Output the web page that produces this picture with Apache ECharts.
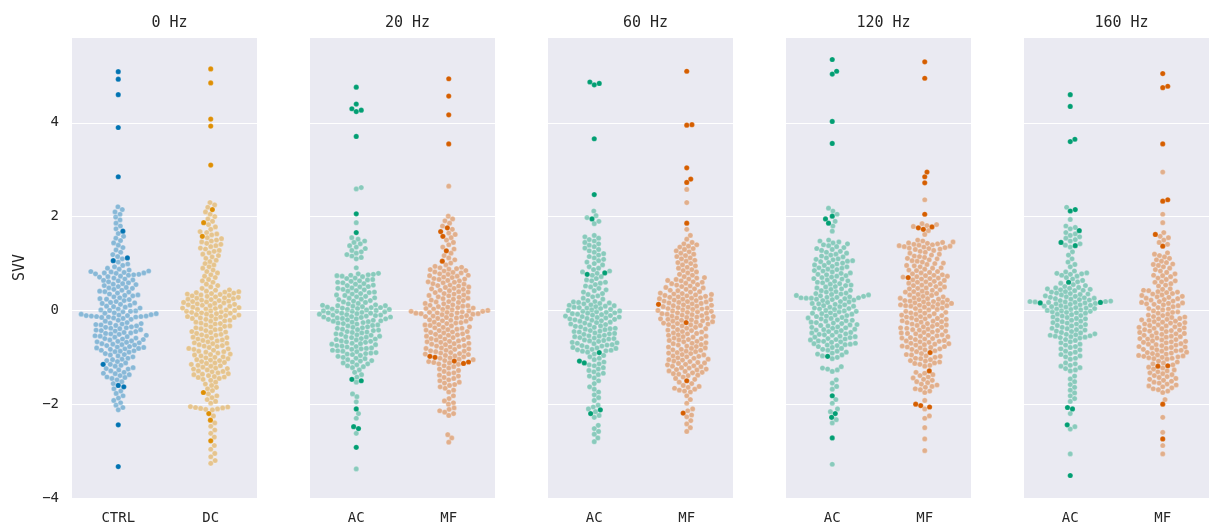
<!DOCTYPE html>
<html>
<head>
<meta charset="utf-8">
<script src="https://cdn.jsdelivr.net/npm/echarts@6/dist/echarts.min.js"></script>
<style>
html,body{margin:0;padding:0;background:#fff;}
#chart{width:1211px;height:529px;}
</style>
</head>
<body>
<div id="chart"></div>
<script>
// ---------------- DATA ----------------
const panelTitles = ['0 Hz', '20 Hz', '60 Hz', '120 Hz', '160 Hz'];
const panelCategories = [['CTRL', 'DC'], ['AC', 'MF'], ['AC', 'MF'], ['AC', 'MF'], ['AC', 'MF']];
const yTicks = [-4, -2, 0, 2, 4];

// 0 Hz
const ctrlDark = [5.09, 4.93, 4.6, 3.9, 2.85, 1.69, 1.12, 1.06, -1.15, -1.6, -1.63, -2.44, -3.33];
const ctrlLight = [2.21, 2.15, 2.1, 2.05, 1.99, 1.93, 1.86, 1.8, 1.74, 1.64, 1.58, 1.54, 1.49, 1.44, 1.39, 1.34, 1.29, 1.24, 1.19,
  1.15, 1.1, 1.03, 0.99, 0.96, 0.93, 0.9, 0.88, 0.86,
  0.84, 0.83, 0.82, 0.81, 0.8, 0.8, 0.79, 0.78, 0.77, 0.76, 0.75,
  0.73, 0.72, 0.71, 0.69, 0.67, 0.65, 0.64, 0.63, 0.61, 0.59, 0.57, 0.56, 0.55, 0.53, 0.51, 0.49, 0.48, 0.47, 0.45, 0.43, 0.41, 0.4, 0.39, 0.37, 0.35, 0.33, 0.32, 0.31, 0.29, 0.27, 0.25, 0.24, 0.23, 0.21, 0.19, 0.17, 0.16, 0.15, 0.13, 0.11, 0.09, 0.08, 0.07, 0.05, 0.03, 0.01, 0.0,
  -0.01, -0.02, -0.03, -0.05, -0.06, -0.07, -0.08, -0.09, -0.1, -0.11, -0.11, -0.12, -0.12, -0.13, -0.13, -0.14, -0.14, -0.15, -0.16, -0.17, -0.19, -0.21, -0.23,
  -0.26, -0.27, -0.28, -0.29, -0.3, -0.31, -0.32, -0.33, -0.35, -0.36, -0.37, -0.38, -0.39, -0.41, -0.42, -0.43, -0.44, -0.45, -0.47, -0.48, -0.49, -0.5, -0.51, -0.53, -0.54, -0.55, -0.56, -0.57, -0.59, -0.6, -0.61, -0.62, -0.63, -0.65, -0.66, -0.67, -0.68, -0.69, -0.71, -0.72, -0.73, -0.74, -0.75, -0.77, -0.78, -0.79, -0.8, -0.81, -0.82, -0.83, -0.85, -0.86, -0.87, -0.88, -0.89,
  -0.92, -0.94, -0.95, -0.97, -0.99, -1.02, -1.04, -1.05, -1.07, -1.09, -1.12, -1.15, -1.17, -1.19, -1.22, -1.24, -1.25, -1.27, -1.29, -1.32, -1.34, -1.35, -1.37, -1.39, -1.42, -1.43, -1.45, -1.48,
  -1.52, -1.56, -1.67, -1.72, -1.77, -1.82, -1.87, -1.92, -1.97, -2.02, -2.07, -2.12];
const dcDark = [5.15, 4.85, 4.08, 3.93, 3.1, 2.15, 1.87, 1.58, -1.75, -2.2, -2.34, -2.78];
const dcLight = [2.3, 2.25, 2.2, 2.1, 2.05, 2.0, 1.95, 1.9, 1.83, 1.78, 1.73,
  1.68, 1.66, 1.63, 1.61, 1.55, 1.53, 1.5, 1.48, 1.46, 1.43, 1.41, 1.38, 1.36, 1.33, 1.31, 1.28, 1.26, 1.23, 1.2, 1.17, 1.14, 1.11,
  1.07, 1.04, 1.0, 0.97, 0.93, 0.9, 0.86, 0.83, 0.8, 0.76, 0.73, 0.7, 0.66, 0.63, 0.6, 0.56, 0.53, 0.5, 0.47,
  0.44, 0.43, 0.41, 0.4, 0.39, 0.38, 0.37, 0.36, 0.35, 0.34, 0.33, 0.32, 0.31, 0.3, 0.29, 0.28, 0.27, 0.26, 0.25, 0.24, 0.23, 0.22, 0.21, 0.2, 0.19, 0.18, 0.17, 0.16, 0.15, 0.14, 0.13, 0.12, 0.11, 0.1, 0.09, 0.08, 0.07, 0.06, 0.05, 0.04, 0.03, 0.02, 0.01, 0.0, -0.01, -0.02, -0.03, -0.04, -0.05, -0.06, -0.07, -0.08, -0.09, -0.1, -0.11, -0.12, -0.13, -0.14, -0.15, -0.16, -0.17, -0.18, -0.19,
  -0.21, -0.22, -0.23, -0.25, -0.27, -0.28, -0.29, -0.31, -0.33, -0.34, -0.35, -0.37, -0.39, -0.4, -0.41, -0.43, -0.45, -0.46, -0.47, -0.49, -0.51, -0.52, -0.53, -0.55, -0.57, -0.58, -0.59, -0.61, -0.63, -0.64, -0.65, -0.67, -0.69, -0.7, -0.71, -0.73, -0.75, -0.76, -0.77, -0.79, -0.81, -0.82, -0.83, -0.85, -0.87, -0.88, -0.89, -0.91, -0.93, -0.94, -0.95, -0.97, -0.99, -1.0, -1.01, -1.03, -1.05, -1.06, -1.07, -1.09, -1.11, -1.12, -1.13, -1.15, -1.17, -1.18, -1.19, -1.21, -1.23, -1.24, -1.25, -1.27, -1.29, -1.3, -1.31, -1.33, -1.35, -1.36, -1.37, -1.39, -1.41, -1.42, -1.43, -1.45, -1.47, -1.49,
  -1.53, -1.57, -1.6, -1.64, -1.67, -1.71, -1.78, -1.82, -1.86, -1.9, -1.94, -1.98,
  -2.05, -2.06, -2.07, -2.08, -2.09, -2.1, -2.11, -2.12,
  -2.25, -2.4, -2.47, -2.55, -2.62, -2.7, -2.88, -2.96, -3.05, -3.12, -3.2, -3.26];

// 20 Hz
const ac20Dark = [4.76, 4.4, 4.3, 4.27, 4.24, 3.71, 2.06, 1.66, -1.47, -1.5, -2.1, -2.48, -2.52, -2.92];
const ac20Light = [2.62, 2.59, 1.87,
  1.55, 1.52, 1.48, 1.45, 1.42, 1.38, 1.35, 1.32, 1.28, 1.25, 1.22, 1.19, 1.16, 1.13, 1.1,
  0.91,
  0.79, 0.78, 0.77, 0.76, 0.75, 0.74, 0.73, 0.72,
  0.69, 0.68, 0.66, 0.65, 0.63, 0.62, 0.6, 0.59, 0.57, 0.56, 0.54, 0.53, 0.51, 0.5, 0.48, 0.47, 0.45, 0.44, 0.42, 0.41, 0.39, 0.38, 0.36, 0.35, 0.33, 0.32, 0.3, 0.29, 0.27, 0.26, 0.24, 0.23, 0.21, 0.2, 0.18, 0.17, 0.15, 0.14,
  0.12, 0.11, 0.1, 0.1, 0.09, 0.08, 0.07, 0.06, 0.06, 0.05, 0.04, 0.03, 0.02, 0.02, 0.01, 0.0, -0.01, -0.02, -0.02, -0.03, -0.04, -0.05, -0.06, -0.06, -0.07, -0.08, -0.09, -0.1, -0.1, -0.11, -0.12, -0.13, -0.14, -0.14, -0.15, -0.16, -0.17, -0.18, -0.18, -0.19, -0.2, -0.21, -0.22, -0.23, -0.24, -0.25, -0.26, -0.27, -0.28, -0.29,
  -0.31, -0.32, -0.33, -0.35, -0.36, -0.37, -0.38, -0.4, -0.41, -0.42, -0.43, -0.45, -0.46, -0.47, -0.48, -0.5, -0.51, -0.52, -0.53, -0.55, -0.56, -0.57, -0.58, -0.6, -0.61, -0.62, -0.63, -0.65, -0.66, -0.67, -0.68, -0.7, -0.71, -0.72, -0.73, -0.75, -0.76, -0.77, -0.78, -0.8, -0.81, -0.82, -0.83, -0.85, -0.86, -0.87, -0.88, -0.9, -0.91, -0.92, -0.93, -0.94,
  -0.96, -0.98, -1.0, -1.02, -1.03, -1.05, -1.07, -1.08, -1.1, -1.12, -1.14, -1.16, -1.18, -1.2,
  -1.22, -1.27, -1.32, -1.37, -1.42, -1.53,
  -1.78, -1.84, -1.95, -2.2, -2.3, -2.62, -3.38];
const mf20Dark = [4.94, 4.57, 4.17, 3.55, 1.76, 1.68, 1.58, 1.27, 1.05, -0.98, -1.0, -1.08, -1.1, -1.13];
const mf20Light = [2.65, 2.01,
  1.95, 1.91, 1.86, 1.8, 1.73, 1.65, 1.62, 1.55, 1.5, 1.45, 1.4, 1.35, 1.31, 1.22, 1.17, 1.12, 1.08, 1.01, 0.97,
  0.94, 0.92, 0.91, 0.89, 0.88, 0.87, 0.85, 0.84, 0.82, 0.81, 0.8, 0.78, 0.77, 0.75, 0.74, 0.73, 0.71, 0.7, 0.68, 0.67, 0.66, 0.64, 0.63, 0.61, 0.6, 0.59, 0.57, 0.56, 0.54, 0.53, 0.52, 0.5, 0.49, 0.47, 0.46, 0.45, 0.43, 0.42, 0.4, 0.39, 0.38, 0.36, 0.35, 0.33, 0.32, 0.31, 0.29, 0.28, 0.26, 0.25, 0.24, 0.22, 0.21, 0.19, 0.18, 0.17, 0.15, 0.14, 0.12, 0.11,
  0.1, 0.09, 0.08, 0.07, 0.06, 0.05, 0.04, 0.03, 0.02, 0.01, 0.0, -0.01, -0.02, -0.02, -0.03, -0.04, -0.04, -0.05, -0.05, -0.06, -0.07, -0.07, -0.08, -0.09, -0.1, -0.11, -0.12, -0.13, -0.14, -0.15,
  -0.16, -0.17, -0.18, -0.2, -0.21, -0.22, -0.23, -0.25, -0.26, -0.27, -0.28, -0.3, -0.31, -0.32, -0.33, -0.35, -0.36, -0.37, -0.38, -0.4, -0.41, -0.42, -0.43, -0.45, -0.46, -0.47, -0.48, -0.5, -0.51, -0.52, -0.53, -0.55, -0.56, -0.57, -0.58, -0.6, -0.61, -0.62, -0.63, -0.65, -0.66, -0.67, -0.68, -0.7, -0.71, -0.72, -0.73, -0.75, -0.76, -0.77, -0.78, -0.8, -0.81, -0.82, -0.83, -0.85, -0.86, -0.87, -0.88, -0.9, -0.91, -0.92, -0.93, -0.94,
  -0.96, -0.97, -0.99, -1.01, -1.02, -1.04, -1.05, -1.07, -1.09, -1.11, -1.12, -1.14, -1.15,
  -1.18, -1.2, -1.23, -1.25, -1.28, -1.3, -1.33, -1.35, -1.38, -1.4, -1.43, -1.45, -1.48, -1.5, -1.53, -1.55, -1.58, -1.6, -1.63, -1.66, -1.7, -1.74,
  -1.82, -1.88, -1.93, -1.97, -2.0,
  -2.08, -2.11, -2.14, -2.17, -2.2, -2.24,
  -2.65, -2.72, -2.81];

// 60 Hz
const ac60Dark = [4.87, 4.84, 4.81, 3.66, 2.47, 1.95, 0.8, 0.77, -0.9, -1.08, -1.12, -2.12, -2.2];
const ac60Light = [2.12, 2.02, 1.98, 1.9, 1.85,
  1.6, 1.57, 1.54, 1.51, 1.48, 1.45, 1.42, 1.39, 1.36, 1.33, 1.3, 1.27, 1.24, 1.21, 1.18, 1.15, 1.12, 1.09, 1.06, 1.03, 1.0, 0.97,
  0.93, 0.9, 0.87, 0.84, 0.82, 0.79, 0.75, 0.72,
  0.68, 0.65, 0.63, 0.6, 0.58, 0.55, 0.52, 0.5, 0.47, 0.44, 0.42, 0.39, 0.36, 0.34, 0.31, 0.29, 0.26, 0.24, 0.21,
  0.19, 0.18, 0.17, 0.16, 0.15, 0.14, 0.12, 0.11, 0.1, 0.09, 0.08, 0.07, 0.06, 0.05, 0.04, 0.02, 0.01, 0.0, -0.01, -0.02, -0.03, -0.04, -0.05, -0.06, -0.07, -0.08, -0.09, -0.1, -0.11, -0.12, -0.13, -0.14, -0.15, -0.16, -0.17, -0.18, -0.19, -0.2, -0.21, -0.22, -0.23, -0.25, -0.26, -0.27, -0.29,
  -0.3, -0.31, -0.33, -0.34, -0.35, -0.36, -0.38, -0.39, -0.4, -0.41, -0.43, -0.44, -0.45, -0.46, -0.48, -0.49, -0.5, -0.51, -0.53, -0.54, -0.55, -0.56, -0.58, -0.59, -0.6, -0.61, -0.63, -0.64, -0.65, -0.66, -0.68, -0.69, -0.7, -0.71, -0.73, -0.74, -0.75, -0.76, -0.78, -0.79, -0.8, -0.81, -0.83, -0.84, -0.85, -0.86, -0.87, -0.89,
  -0.93, -0.96, -0.99, -1.02, -1.05, -1.1, -1.14, -1.16, -1.18,
  -1.22, -1.25, -1.28, -1.31, -1.34, -1.37, -1.4, -1.44,
  -1.5, -1.56, -1.63, -1.68, -1.74, -1.8, -1.86, -1.92,
  -2.02, -2.06, -2.1, -2.16, -2.24, -2.28,
  -2.45, -2.52, -2.58, -2.64, -2.72, -2.8];
const mf60Dark = [5.1, 3.96, 3.95, 3.04, 2.8, 2.73, 1.86, 0.13, -0.26, -1.5, -2.19];
const mf60Light = [2.58, 2.3, 1.73, 1.6, 1.52,
  1.45, 1.42, 1.4, 1.37, 1.35, 1.32, 1.3, 1.27, 1.25, 1.22, 1.2, 1.17, 1.15, 1.12, 1.1, 1.07, 1.05, 1.02, 1.0, 0.97, 0.95, 0.92, 0.9, 0.87, 0.85, 0.82, 0.8, 0.77, 0.75, 0.72,
  0.7, 0.69, 0.67, 0.66, 0.64, 0.63, 0.61, 0.6, 0.58, 0.57, 0.55, 0.54, 0.52, 0.51, 0.49, 0.48, 0.46, 0.45, 0.43, 0.42, 0.4, 0.39, 0.37, 0.36, 0.35, 0.34, 0.33, 0.32, 0.31, 0.3,
  0.29, 0.28, 0.27, 0.26, 0.25, 0.24, 0.23, 0.22, 0.21, 0.2, 0.19, 0.18, 0.17, 0.16, 0.15, 0.14, 0.12, 0.11, 0.1, 0.09, 0.08, 0.07, 0.06, 0.05, 0.04, 0.03, 0.02, 0.01, 0.0, -0.01, -0.02, -0.03, -0.04, -0.05, -0.06, -0.07, -0.08, -0.09, -0.1, -0.11, -0.12, -0.13, -0.14, -0.15, -0.16, -0.17, -0.18, -0.19, -0.2, -0.21, -0.22, -0.23, -0.24, -0.25, -0.27, -0.28, -0.29, -0.3, -0.31, -0.32, -0.33,
  -0.35, -0.36, -0.38, -0.39, -0.41, -0.42, -0.43, -0.45, -0.46, -0.48, -0.49, -0.5, -0.52, -0.53, -0.55, -0.56, -0.57, -0.59, -0.6, -0.62, -0.63, -0.64, -0.66, -0.67, -0.69, -0.7, -0.71, -0.73, -0.74, -0.76, -0.77, -0.78, -0.8, -0.81, -0.83, -0.84, -0.85, -0.87, -0.88, -0.9, -0.91, -0.92, -0.94, -0.95, -0.97, -0.98, -0.99, -1.01, -1.02, -1.04, -1.05, -1.06, -1.08, -1.09, -1.11, -1.12, -1.13, -1.15, -1.16, -1.18, -1.19, -1.2, -1.22, -1.23, -1.25, -1.26, -1.27, -1.29, -1.3, -1.32, -1.33, -1.35, -1.36, -1.38, -1.39,
  -1.42, -1.45, -1.47, -1.53, -1.56,
  -1.6, -1.62, -1.64, -1.66, -1.68, -1.7, -1.72, -1.74,
  -1.82, -1.9, -1.98,
  -2.1, -2.14, -2.23, -2.27,
  -2.35, -2.42, -2.5, -2.58];

// 120 Hz
const ac120Dark = [5.35, 5.1, 5.04, 4.03, 3.56, 2.01, 1.95, 1.86, -0.98, -1.82, -2.2, -2.28, -2.72];
const ac120Light = [2.18, 2.12, 2.05, 1.9, 1.8, 1.69,
  1.5, 1.48, 1.46, 1.44, 1.42, 1.4, 1.38, 1.36, 1.34, 1.32, 1.3, 1.28, 1.26, 1.24, 1.22, 1.2, 1.18, 1.16, 1.14, 1.12, 1.1, 1.09, 1.08, 1.06, 1.05, 1.04, 1.02, 1.01,
  0.99, 0.97, 0.96, 0.94, 0.93, 0.91, 0.9, 0.88, 0.87, 0.85, 0.84, 0.82, 0.8, 0.79, 0.77, 0.76, 0.74, 0.73, 0.71, 0.7, 0.68, 0.67, 0.65, 0.63, 0.62, 0.6, 0.59, 0.57, 0.56, 0.54, 0.53, 0.51, 0.5, 0.48, 0.46, 0.45, 0.43, 0.42, 0.4, 0.39,
  0.37, 0.36, 0.35, 0.34, 0.33, 0.32, 0.31, 0.3, 0.29, 0.28, 0.28, 0.27, 0.27, 0.26, 0.26, 0.25, 0.24, 0.23, 0.22, 0.21,
  0.19, 0.18, 0.17, 0.15, 0.14, 0.13, 0.12, 0.1, 0.09, 0.08, 0.07, 0.05, 0.04, 0.03, 0.02, 0.0, -0.01, -0.02, -0.03, -0.05, -0.06, -0.07, -0.08, -0.1, -0.11, -0.12, -0.13, -0.15, -0.16, -0.17, -0.18, -0.2, -0.21, -0.22, -0.23, -0.25, -0.26, -0.27, -0.28, -0.3, -0.31, -0.32, -0.33, -0.35, -0.36, -0.37, -0.38, -0.4, -0.41, -0.42, -0.43, -0.45, -0.46, -0.47, -0.48, -0.5, -0.51, -0.52, -0.53, -0.55, -0.56, -0.57, -0.58, -0.6, -0.61, -0.62, -0.63, -0.65, -0.66, -0.67, -0.68, -0.7, -0.71, -0.72, -0.73, -0.74, -0.75,
  -0.77, -0.79, -0.81, -0.83, -0.85, -0.87, -0.89, -0.91, -0.93, -0.95, -0.97, -1.0, -1.03,
  -1.2, -1.23, -1.25, -1.27, -1.3,
  -1.48, -1.55, -1.62, -1.68,
  -1.9, -1.98, -2.1, -2.16, -2.33, -2.4,
  -3.28];
const mf120Dark = [5.3, 4.95, 2.95, 2.85, 2.72, 2.05, 1.78, 1.76, 1.73, 0.7, -0.9, -1.29, -2.0, -2.03, -2.06];
const mf120Light = [2.36, 1.85, 1.83, 1.81, 1.79, 1.7, 1.62,
  1.5, 1.48, 1.46, 1.45, 1.44, 1.43, 1.42, 1.41, 1.4, 1.39, 1.38, 1.37, 1.36, 1.35, 1.34, 1.33, 1.32, 1.31, 1.3, 1.28, 1.26, 1.24, 1.22, 1.2,
  1.18, 1.16, 1.15, 1.13, 1.11, 1.1, 1.08, 1.06, 1.05, 1.03, 1.01, 1.0, 0.98, 0.96, 0.95, 0.93, 0.91, 0.9, 0.88, 0.86, 0.85, 0.83, 0.81, 0.8, 0.78, 0.76, 0.75, 0.74, 0.73, 0.72, 0.71, 0.69,
  0.68, 0.67, 0.65, 0.64, 0.62, 0.61, 0.6, 0.58, 0.57, 0.55, 0.54, 0.53, 0.51, 0.5, 0.48, 0.47, 0.46, 0.44, 0.43, 0.41, 0.4, 0.39, 0.37, 0.36, 0.34, 0.33, 0.32, 0.3, 0.29, 0.27, 0.26, 0.25, 0.24, 0.23, 0.22, 0.21, 0.2,
  0.19, 0.18, 0.17, 0.16, 0.15, 0.14, 0.13, 0.12, 0.11, 0.1, 0.1, 0.09, 0.08, 0.07, 0.05, 0.04, 0.02, 0.01,
  -0.01, -0.02, -0.04, -0.05, -0.06, -0.07, -0.08, -0.1, -0.11, -0.12, -0.13, -0.14, -0.16, -0.17, -0.18, -0.19, -0.2, -0.22, -0.23, -0.24, -0.25, -0.26, -0.28, -0.29, -0.3, -0.31, -0.32, -0.34, -0.35, -0.36, -0.37, -0.38, -0.4, -0.41, -0.42, -0.43, -0.44, -0.46, -0.47, -0.48, -0.49, -0.5, -0.52, -0.53, -0.54, -0.55, -0.56, -0.58, -0.59, -0.6, -0.61, -0.62, -0.64, -0.65, -0.66, -0.67, -0.68, -0.7, -0.71, -0.72, -0.73, -0.74, -0.76, -0.77, -0.78, -0.79, -0.8, -0.82, -0.83, -0.84,
  -0.86, -0.88, -0.92, -0.94, -0.95, -0.97, -0.98, -1.0, -1.02, -1.03, -1.05, -1.07, -1.08, -1.1, -1.12, -1.13, -1.15, -1.17, -1.19,
  -1.32, -1.34, -1.37, -1.39, -1.42, -1.44, -1.47, -1.49, -1.52, -1.54, -1.57, -1.59, -1.62, -1.64, -1.67, -1.69, -1.72, -1.75,
  -1.92, -2.1,
  -2.25, -2.3, -2.5, -2.74, -2.99];

// 160 Hz
const ac160Dark = [4.6, 4.35, 3.65, 3.6, 2.15, 2.12, 1.7, 1.45, 1.38, 0.6, 0.17, 0.16, -2.07, -2.1, -2.44, -3.52];
const ac160Light = [2.2, 1.94,
  1.8, 1.77, 1.74, 1.66, 1.63, 1.6, 1.57, 1.54, 1.51, 1.48, 1.42, 1.39, 1.35,
  1.25, 1.18, 1.1, 1.03, 0.98, 0.93,
  0.84, 0.82, 0.8, 0.79, 0.78, 0.77, 0.75, 0.73,
  0.7, 0.67, 0.64, 0.61, 0.58, 0.55, 0.53, 0.51,
  0.49, 0.48, 0.47, 0.46, 0.45, 0.44, 0.43, 0.42, 0.4, 0.39, 0.37, 0.36, 0.35, 0.34, 0.33, 0.31,
  0.3, 0.29, 0.28, 0.27, 0.26, 0.25, 0.24, 0.23, 0.22, 0.21, 0.2, 0.19, 0.19, 0.18, 0.18, 0.17, 0.17, 0.16, 0.15, 0.14, 0.13, 0.12, 0.11, 0.1,
  0.09, 0.08, 0.07, 0.06, 0.05, 0.04, 0.03, 0.02, 0.01, 0.0, -0.01, -0.02, -0.03, -0.04, -0.05, -0.06, -0.08, -0.09,
  -0.11, -0.12, -0.14, -0.15, -0.17, -0.18, -0.2, -0.21, -0.23, -0.24, -0.26, -0.27, -0.29, -0.3, -0.32, -0.33, -0.35, -0.36, -0.38, -0.39, -0.41, -0.42, -0.44, -0.45, -0.47, -0.48,
  -0.5, -0.51, -0.52, -0.53, -0.54, -0.55, -0.56, -0.57, -0.58, -0.59,
  -0.62, -0.64, -0.67, -0.69, -0.72, -0.74, -0.77, -0.79, -0.82, -0.84, -0.87, -0.89, -0.92, -0.94, -0.97, -0.99, -1.02, -1.04,
  -1.12, -1.14, -1.17, -1.19, -1.22, -1.24, -1.27, -1.29,
  -1.4, -1.46, -1.52, -1.58, -1.64, -1.7, -1.76, -1.82, -1.88, -1.94,
  -2.2, -2.48, -2.53, -3.06];
const mf160Dark = [5.05, 4.78, 4.75, 3.55, 2.36, 2.33, 1.62, 1.37, -1.18, -1.19, -2.0, -2.74];
const mf160Light = [2.95, 2.05, 1.87, 1.66, 1.58, 1.55, 1.5, 1.45, 1.41,
  1.23, 1.2, 1.17, 1.14, 1.11, 1.08, 1.05, 1.02, 0.99, 0.98, 0.96, 0.93, 0.9, 0.87, 0.84, 0.81, 0.78, 0.75, 0.74, 0.72, 0.69, 0.66, 0.63, 0.61, 0.6, 0.57, 0.54, 0.52,
  0.46, 0.45, 0.43, 0.42, 0.4, 0.39, 0.38, 0.36, 0.35, 0.33, 0.32, 0.3, 0.29, 0.28, 0.26, 0.25, 0.23, 0.22, 0.2, 0.19, 0.17, 0.16, 0.15, 0.14, 0.13, 0.12,
  0.1, 0.08, 0.06, 0.04, 0.03, 0.01, -0.01, -0.03, -0.04, -0.06, -0.08, -0.1, -0.11,
  -0.13, -0.14, -0.15, -0.17, -0.18, -0.19, -0.2, -0.21, -0.23, -0.24, -0.25, -0.26, -0.27, -0.29, -0.3, -0.31, -0.32, -0.33, -0.35, -0.36, -0.37, -0.38, -0.39, -0.41, -0.42, -0.43, -0.44, -0.45, -0.47, -0.48, -0.49, -0.5, -0.51, -0.53, -0.54, -0.55, -0.56, -0.57, -0.59, -0.6, -0.61, -0.62, -0.63, -0.65, -0.66, -0.67, -0.68, -0.69, -0.71, -0.72, -0.73, -0.74, -0.75, -0.77, -0.78, -0.79, -0.8, -0.81, -0.83, -0.84, -0.85, -0.86, -0.87, -0.89, -0.9, -0.91, -0.92, -0.93, -0.95, -0.96, -0.97, -0.98, -0.99, -1.0, -1.01, -1.02, -1.03, -1.04,
  -1.08, -1.1, -1.12, -1.14, -1.16, -1.21, -1.23, -1.25, -1.27, -1.29, -1.31,
  -1.33, -1.35, -1.37, -1.39, -1.41, -1.43, -1.45, -1.47, -1.49, -1.51, -1.53, -1.55, -1.57, -1.59, -1.61, -1.63, -1.65, -1.67, -1.69, -1.72, -1.75,
  -1.9, -2.28, -2.6, -2.88, -3.06];

const panelData = [
  [[ctrlLight, ctrlDark], [dcLight, dcDark]],
  [[ac20Light, ac20Dark], [mf20Light, mf20Dark]],
  [[ac60Light, ac60Dark], [mf60Light, mf60Dark]],
  [[ac120Light, ac120Dark], [mf120Light, mf120Dark]],
  [[ac160Light, ac160Dark], [mf160Light, mf160Dark]]
];

// ---------------- STYLE ----------------
const hueColors = {CTRL: '#0173B2', DC: '#DE8F05', AC: '#029E73', MF: '#D55E00'};
const FONT = "'DejaVu Sans Mono', monospace";
const TXT = '#262626';
const gridLeft0 = 72, gridStep = 238, gridW = 185, gridTop = 37, gridH = 461;
const DIAM = 5.2;      // swarm spacing (px)
const RADIUS = 2.6;    // drawn radius (px)

function hexToRgba(hex, a) {
  const n = parseInt(hex.slice(1), 16);
  return 'rgba(' + ((n >> 16) & 255) + ',' + ((n >> 8) & 255) + ',' + (n & 255) + ',' + a + ')';
}

// beeswarm in pixel space (seaborn-like)
function beeswarm(ys, d) {
  const n = ys.length;
  const order = ys.map((y, i) => i).sort((a, b) => ys[b] - ys[a]);
  const placed = [];
  const offs = new Array(n).fill(0);
  for (const i of order) {
    const y = ys[i];
    const neigh = placed.filter(p => Math.abs(p.y - y) < d);
    const cands = [0];
    for (const p of neigh) {
      const dy = y - p.y;
      const dx = Math.sqrt(Math.max(0, d * d - dy * dy));
      cands.push(p.x + dx, p.x - dx);
    }
    cands.sort((a, b) => Math.abs(a) - Math.abs(b));
    let chosen = cands[cands.length - 1];
    for (const c of cands) {
      let ok = true;
      for (const p of neigh) {
        const dx = c - p.x, dy = y - p.y;
        if (dx * dx + dy * dy < d * d - 1e-6) { ok = false; break; }
      }
      if (ok) { chosen = c; break; }
    }
    placed.push({x: chosen, y: y});
    offs[i] = chosen;
  }
  return offs;
}

const layoutCache = {};
const grids = [], xAxes = [], yAxes = [], titles = [], series = [];
panelTitles.forEach((t, p) => {
  const left = gridLeft0 + p * gridStep;
  grids.push({left: left, top: gridTop, width: gridW, height: gridH, show: true,
    backgroundColor: '#EAEAF2', borderWidth: 0, containLabel: false});
  titles.push({text: t, left: left + gridW / 2, top: 11, textAlign: 'center',
    textStyle: {fontFamily: FONT, fontSize: 15, fontWeight: 'normal', color: TXT}});
  xAxes.push({type: 'category', gridIndex: p, data: panelCategories[p],
    axisLine: {show: false}, axisTick: {show: false}, splitLine: {show: false},
    axisLabel: {fontFamily: FONT, fontSize: 14, color: TXT, margin: 13}});
  yAxes.push({type: 'value', gridIndex: p, min: -4, max: 5.83, interval: 2,
    name: p === 0 ? 'SVV' : '', nameLocation: 'middle', nameGap: 44, nameRotate: 90,
    nameTextStyle: {fontFamily: FONT, fontSize: 15, color: TXT},
    axisLine: {show: false}, axisTick: {show: false},
    splitLine: {show: true, lineStyle: {color: '#ffffff', width: 1}},
    axisLabel: {show: p === 0, fontFamily: FONT, fontSize: 14, color: TXT, margin: 13,
      showMaxLabel: false,
      formatter: v => yTicks.indexOf(v) >= 0 ? (v < 0 ? '\u2212' + (-v) : String(v)) : ''}});

  panelData[p].forEach((pair, c) => {
    const color = hueColors[panelCategories[p][c]];
    const light = pair[0], dark = pair[1];
    const data = [];
    light.forEach(v => data.push([c, v, 0]));
    dark.forEach(v => data.push([c, v, 1]));
    const key = p + '_' + c;
    series.push({
      type: 'custom', xAxisIndex: p, yAxisIndex: p, coordinateSystem: 'cartesian2d',
      data: data, clip: false, silent: true,
      renderItem: function (params, api) {
        const sig = api.coord([c, 0]).join(',') + '|' + api.coord([c, 1]).join(',');
        let L = layoutCache[key];
        if (!L || L.sig !== sig) {
          const ys = data.map(d => api.coord([c, d[1]])[1]);
          L = {sig: sig, offs: beeswarm(ys, DIAM)};
          layoutCache[key] = L;
        }
        const pt = api.coord([api.value(0), api.value(1)]);
        const isDark = api.value(2) === 1;
        return {
          type: 'circle',
          shape: {cx: pt[0] + L.offs[params.dataIndex], cy: pt[1], r: RADIUS},
          style: isDark
            ? {fill: color, stroke: 'rgba(255,255,255,0.35)', lineWidth: 0.5}
            : {fill: hexToRgba(color, 0.42), stroke: 'rgba(255,255,255,0.45)', lineWidth: 0.5}
        };
      }
    });
  });
});

const chart = echarts.init(document.getElementById('chart'), null, {renderer: 'canvas'});
chart.setOption({
  animation: false,
  backgroundColor: '#ffffff',
  title: titles,
  grid: grids,
  xAxis: xAxes,
  yAxis: yAxes,
  series: series
});
</script>
</body>
</html>
